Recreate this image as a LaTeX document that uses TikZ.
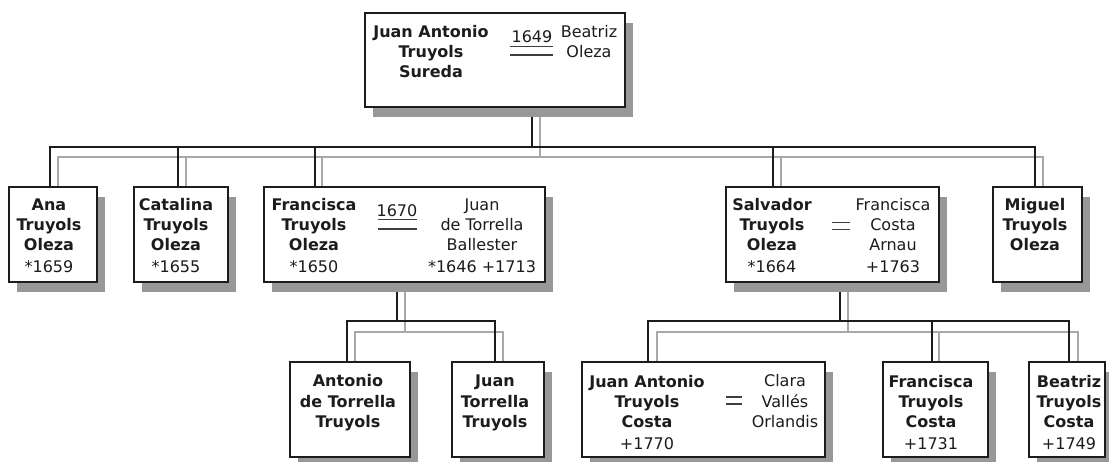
\documentclass[tikz,border=0pt]{standalone}
\usepackage{fontspec}
\setmainfont{DejaVu Sans}
\usetikzlibrary{shadows}
\pgfdeclarelayer{bg}
\pgfsetlayers{bg,main}
\definecolor{shadowgray}{RGB}{152,152,152}
\definecolor{linegray}{RGB}{168,168,168}
\definecolor{ink}{RGB}{28,28,28}
\tikzset{
  box/.style={draw=ink, line width=1.6pt, fill=white, inner sep=0pt, outer sep=0pt,
    drop shadow={shadow xshift=8pt, shadow yshift=-10pt, fill=shadowgray, opacity=1}},
  txt/.style={anchor=north, align=center, inner sep=0pt, text=ink},
  yeartxt/.style={anchor=base, inner sep=0pt, text=ink},
  kline/.style={draw=ink, line width=1.5pt},
  gline/.style={draw=linegray, line width=1.5pt},
  eqline/.style={draw=ink!85, line width=1.3pt},
}
\begin{document}
\begin{tikzpicture}[x=1pt, y=-1pt, font=\fontsize{16}{20}\selectfont]
\useasboundingbox (0,0) rectangle (1109,462);

% boxes
\node[box, minimum width=260pt, minimum height=94pt] (top) at (495,60) {};
\node[box, minimum width=88pt, minimum height=95pt] (ana) at (53,234.5) {};
\node[box, minimum width=94pt, minimum height=95pt] (cat) at (181,234.5) {};
\node[box, minimum width=281pt, minimum height=95pt] (fra) at (404.5,234.5) {};
\node[box, minimum width=213pt, minimum height=95pt] (sal) at (832.5,234.5) {};
\node[box, minimum width=89pt, minimum height=95pt] (mig) at (1037.5,234.5) {};
\node[box, minimum width=120pt, minimum height=95pt] (ant) at (350,409.5) {};
\node[box, minimum width=92pt, minimum height=95pt] (jua) at (498,409.5) {};
\node[box, minimum width=243pt, minimum height=95pt] (jac) at (703.5,409.5) {};
\node[box, minimum width=105pt, minimum height=95pt] (frc) at (935.5,409.5) {};
\node[box, minimum width=76pt, minimum height=95pt] (bea) at (1067,409.5) {};

% texts
\node[txt] (topN) at (431,23.8) {\strut\textbf{Juan Antonio}\\\textbf{Truyols}\\\textbf{Sureda}};
\node[txt] (topS) at (589,23.8) {\strut Beatriz\\Oleza};
\node[yeartxt] (topY) at (532,42.7) {1649};
\draw[eqline] (510,46.7) -- (553,46.7);
\draw[eqline] (510,55) -- (553,55);

\node[txt] (anaT) at (49,196.8) {\strut\textbf{Ana}\\\textbf{Truyols}\\\textbf{Oleza}\\[2pt]*1659};
\node[txt] (catT) at (176,196.8) {\strut\textbf{Catalina}\\\textbf{Truyols}\\\textbf{Oleza}\\[2pt]*1655};
\node[txt] (fraN) at (314,196.8) {\strut\textbf{Francisca}\\\textbf{Truyols}\\\textbf{Oleza}\\[2pt]*1650};
\node[yeartxt] (fraY) at (397,217) {1670};
\draw[eqline] (378,219.5) -- (417,219.5);
\draw[eqline, line width=2pt] (378,229.5) -- (417,229.5);
\node[txt] (fraS) at (482,196.8) {\strut Juan\\de Torrella\\Ballester\\[2pt]*1646 +1713};
\node[txt] (salN) at (772,196.8) {\strut\textbf{Salvador}\\\textbf{Truyols}\\\textbf{Oleza}\\[2pt]*1664};
\draw[eqline] (832,222.7) -- (850,222.7);
\draw[eqline] (832,229.3) -- (850,229.3);
\node[txt] (salS) at (893,196.8) {\strut Francisca\\Costa\\Arnau\\[2pt]+1763};
\node[txt] (migT) at (1035,196.8) {\strut\textbf{Miguel}\\\textbf{Truyols}\\\textbf{Oleza}};

\node[txt] (antT) at (348,372.8) {\strut\textbf{Antonio}\\\textbf{de Torrella}\\\textbf{Truyols}};
\node[txt] (juaT) at (495,372.8) {\strut\textbf{Juan}\\\textbf{Torrella}\\\textbf{Truyols}};
\node[txt] (jacN) at (647,372.8) {\strut\textbf{Juan Antonio}\\\textbf{Truyols}\\\textbf{Costa}\\[2pt]+1770};
\draw[eqline] (726,397) -- (742,397);
\draw[eqline] (726,404) -- (742,404);
\node[txt] (jacS) at (785,372.8) {\strut Clara\\Vallés\\Orlandis};
\node[txt] (frcT) at (931,372.8) {\strut\textbf{Francisca}\\\textbf{Truyols}\\\textbf{Costa}\\[2pt]+1731};
\node[txt] (beaT) at (1069,372.8) {\strut\textbf{Beatriz}\\\textbf{Truyols}\\\textbf{Costa}\\[2pt]+1749};

% bar levels
\coordinate (barAk) at (0,147);
\coordinate (barAg) at (0,157);
\coordinate (barBk) at (0,321);
\coordinate (barBg) at (0,332);

% attachment points
\coordinate (topK) at ([xshift=37pt]top.south);
\coordinate (topG) at ([xshift=45pt]top.south);
\coordinate (anaK) at ([xshift=-3pt]ana.north);
\coordinate (anaG) at ([xshift=5pt]ana.north);
\coordinate (catK) at ([xshift=-3pt]cat.north);
\coordinate (catG) at ([xshift=5pt]cat.north);
\coordinate (fraK) at ([xshift=-89.5pt]fra.north);
\coordinate (fraG) at ([xshift=-82.5pt]fra.north);
\coordinate (fraDK) at ([xshift=-7.5pt]fra.south);
\coordinate (fraDG) at ([xshift=0.5pt]fra.south);
\coordinate (salK) at ([xshift=-59.5pt]sal.north);
\coordinate (salG) at ([xshift=-51.5pt]sal.north);
\coordinate (salDK) at ([xshift=7.5pt]sal.south);
\coordinate (salDG) at ([xshift=15.5pt]sal.south);
\coordinate (migK) at ([xshift=-2.5pt]mig.north);
\coordinate (migG) at ([xshift=5.5pt]mig.north);
\coordinate (antK) at ([xshift=-3pt]ant.north);
\coordinate (antG) at ([xshift=5pt]ant.north);
\coordinate (juaK) at ([xshift=-3pt]jua.north);
\coordinate (juaG) at ([xshift=5pt]jua.north);
\coordinate (jacK) at ([xshift=-55.5pt]jac.north);
\coordinate (jacG) at ([xshift=-46.5pt]jac.north);
\coordinate (frcK) at ([xshift=-3.5pt]frc.north);
\coordinate (frcG) at ([xshift=3.5pt]frc.north);
\coordinate (beaK) at ([xshift=2pt]bea.north);
\coordinate (beaG) at ([xshift=11pt]bea.north);

\begin{pgfonlayer}{bg}
\fill[white] (0,0) rectangle (1109,462);
% gray (mother) lines first
\draw[gline] (topG) -- (topG |- barAg);
\draw[gline] (anaG) |- (migG |- barAg) -- (migG);
\draw[gline] (catG) -- (catG |- barAg);
\draw[gline] (fraG) -- (fraG |- barAg);
\draw[gline] (salG) -- (salG |- barAg);
\draw[gline] (fraDG) -- (fraDG |- barBg);
\draw[gline] (antG) |- (juaG |- barBg) -- (juaG);
\draw[gline] (salDG) -- (salDG |- barBg);
\draw[gline] (jacG) |- (beaG |- barBg) -- (beaG);
\draw[gline] (frcG) -- (frcG |- barBg);
% black (father) lines on top
\draw[kline] (topK) -- (topK |- barAk);
\draw[kline] (anaK) |- (migK |- barAk) -- (migK);
\draw[kline] (catK) -- (catK |- barAk);
\draw[kline] (fraK) -- (fraK |- barAk);
\draw[kline] (salK) -- (salK |- barAk);
\draw[kline] (fraDK) -- (fraDK |- barBk);
\draw[kline] (antK) |- (juaK |- barBk) -- (juaK);
\draw[kline] (salDK) -- (salDK |- barBk);
\draw[kline] (jacK) |- (beaK |- barBk) -- (beaK);
\draw[kline] (frcK) -- (frcK |- barBk);
\end{pgfonlayer}
\end{tikzpicture}
\end{document}
